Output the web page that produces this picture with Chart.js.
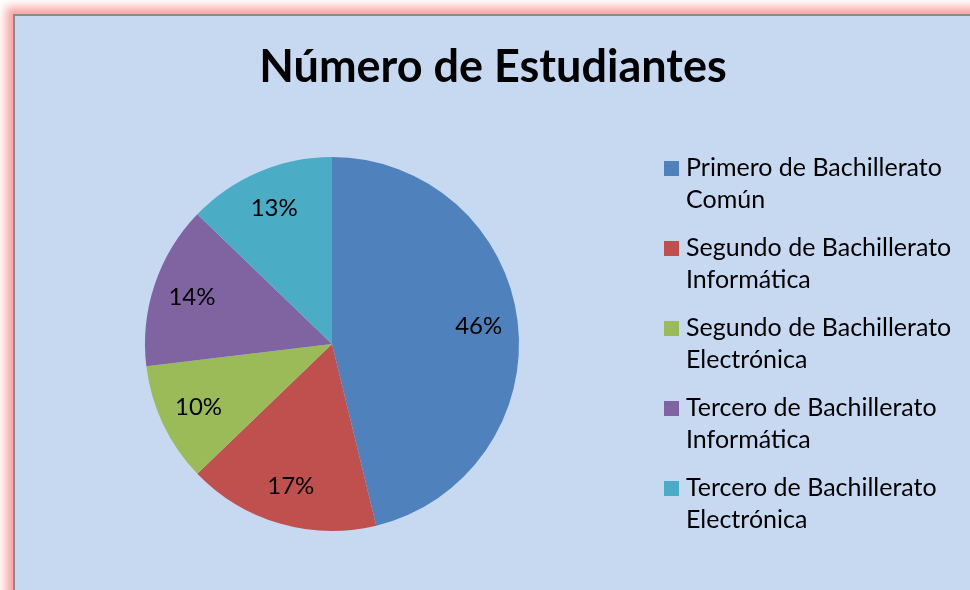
<!DOCTYPE html>
<html>
<head>
<meta charset="utf-8">
<script src="https://cdn.jsdelivr.net/npm/chart.js@4.4.1/dist/chart.umd.min.js"></script>
<style>
  html, body { margin:0; padding:0; background:#ffffff; overflow:hidden; }
  #page { position:relative; width:970px; height:590px; overflow:hidden; background:#ffffff; }
  #frame { position:absolute; left:13px; top:14px; width:980px; height:600px;
           border:2px solid #8a8a8a; background:#c6d9f1;
           box-shadow: 0 0 9px 7px rgba(246,140,140,0.8); }
  #wrap { position:absolute; left:0; top:0; width:955px; height:574px; }
</style>
</head>
<body>
<div id="page">
  <div id="frame">
    <div id="wrap"><canvas id="c" width="955" height="574"></canvas></div>
  </div>
</div>
<script>
const titleText = 'Número de Estudiantes';
const categories = [
  ['Primero de Bachillerato', 'Común'],
  ['Segundo de Bachillerato', 'Informática'],
  ['Segundo de Bachillerato', 'Electrónica'],
  ['Tercero de Bachillerato', 'Informática'],
  ['Tercero de Bachillerato', 'Electrónica']
];
const shares = [46.2, 16.6, 10.3, 14.1, 12.8];
const sliceColors = ['#4f81bd', '#c0504d', '#9bbb59', '#8064a2', '#4bacc6'];

const FONT = 'Lato, "Open Sans", sans-serif';

const decorPlugin = {
  id: 'decor',
  afterDatasetsDraw(chart) {
    const ctx = chart.ctx;
    const meta = chart.getDatasetMeta(0);
    const data = chart.data.datasets[0].data;
    const total = data.reduce((a, b) => a + b, 0);
    ctx.save();
    // data labels
    ctx.fillStyle = '#000000';
    ctx.font = '24px ' + FONT;
    ctx.textAlign = 'center';
    ctx.textBaseline = 'middle';
    meta.data.forEach((arc, i) => {
      const p = arc.getProps(['x', 'y', 'startAngle', 'endAngle', 'outerRadius'], true);
      const mid = (p.startAngle + p.endAngle) / 2;
      const r = p.outerRadius * 0.79;
      const txt = Math.round(data[i] / total * 100) + '%';
      ctx.fillText(txt, p.x + Math.cos(mid) * r, p.y + Math.sin(mid) * r);
    });
    // title
    ctx.font = 'bold 45px ' + FONT;
    ctx.textBaseline = 'middle';
    ctx.fillText(titleText, 478, 51);
    // legend
    ctx.textAlign = 'left';
    ctx.textBaseline = 'alphabetic';
    ctx.font = '25px ' + FONT;
    chart.data.labels.forEach((lab, i) => {
      const y0 = 145 + i * 80;
      ctx.fillStyle = chart.data.datasets[0].backgroundColor[i];
      ctx.fillRect(649, y0, 15, 15);
      ctx.fillStyle = '#000000';
      lab.forEach((line, j) => ctx.fillText(line, 671, y0 + 15 + j * 32));
    });
    ctx.restore();
  }
};

new Chart(document.getElementById('c'), {
  type: 'pie',
  data: {
    labels: categories,
    datasets: [{
      data: shares,
      backgroundColor: sliceColors,
      borderWidth: 0
    }]
  },
  options: {
    responsive: false,
    animation: false,
    layout: { padding: { left: 130, top: 141, right: 451, bottom: 59 } },
    plugins: {
      legend: { display: false },
      title: { display: false },
      tooltip: { enabled: false }
    }
  },
  plugins: [decorPlugin]
});
</script>
</body>
</html>
